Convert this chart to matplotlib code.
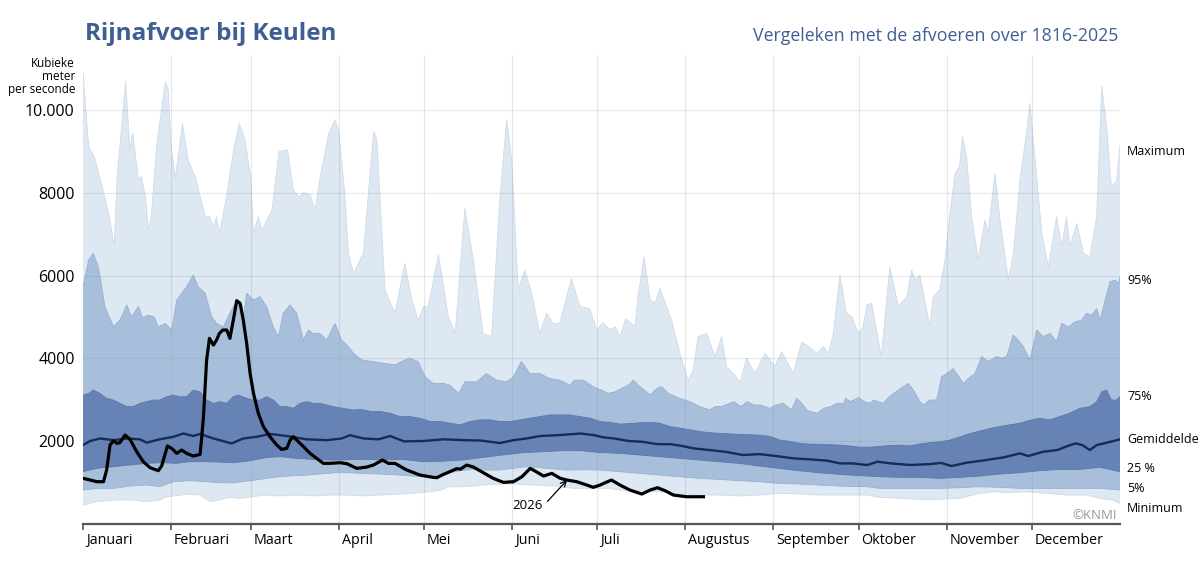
"""Rijnafvoer bij Keulen: 2026 vs. historical distribution 1816-2025."""
import matplotlib
matplotlib.use("Agg")
import matplotlib.pyplot as plt

# palette
LIGHT, MID, DARK = "#dee8f2", "#a8bfdc", "#6783b5"
LIGHT_EDGE, MID_EDGE, DARK_EDGE = "#cfdbe8", "#97afd0", "#5c78aa"
MEAN_C, Y26_C = "#172c55", "#000000"
TITLE_C, GRID_C = "#3f5f94", "#7d8894"

plt.rcParams.update({
    "font.family": ["Open Sans", "DejaVu Sans"],
    "figure.facecolor": "white", "axes.facecolor": "white",
})

MONTHS = ["Januari", "Februari", "Maart", "April", "Mei", "Juni", "Juli",
          "Augustus", "September", "Oktober", "November", "December"]
MONTH_START = [0, 31, 59, 90, 120, 151, 181, 212, 243, 273, 304, 334]

# day of year (0 = 1 jan) and discharge in m3/s
MAX_DAY = [0, 2, 4, 7, 9, 11, 12, 15, 16.5, 17.5, 19.5, 20.5, 22, 23, 24, 26, 29,
           30, 31, 32.5, 35, 37, 39.5, 43, 44.5, 46, 47, 48, 50.5, 53, 55, 57,
           59, 60, 61.7, 63, 66.5, 69, 72, 74, 76, 77.5, 80, 81.7, 83.5, 86.5,
           88.7, 90, 92, 93.4, 95.2, 98.7, 102.3, 103.4, 106.3, 109.8, 113.3,
           115.7, 118, 119.8, 121.5, 125.1, 128.6, 131, 134.4, 137.4, 140.8,
           143.8, 146.7, 149.1, 150.9, 153.2, 155.5, 157.9, 160.8, 163.2, 165.5,
           167.8, 171.9, 174.9, 178.4, 180.8, 183, 185.5, 187.3, 189, 191, 194.3,
           195.5, 197.5, 199.6, 201.4, 203.1, 205.4, 207.2, 210.1, 213, 214.8,
           216.5, 219.5, 222.4, 224.8, 226.5, 228.9, 231.3, 233.6, 236.5, 240.1,
           243.6, 245.9, 250, 253, 255.4, 258.3, 260.6, 262.4, 264.1, 266.4,
           268.7, 270.5, 273, 274.5, 276, 277.6, 281, 284, 287, 290, 291.7, 292.9,
           294.6, 298.1, 299.3, 301.6, 303.4, 305.2, 307, 308.5, 309.6, 311,
           312.8, 315.1, 317.5, 318.6, 321, 322.8, 325.7, 327.5, 329.8, 332.1,
           333.3, 334.5, 337.5, 339.8, 342.7, 344.5, 346.2, 347.4, 349.8, 352.1,
           354.4, 356.8, 358.6, 360.3, 362, 363.8, 365]
MAX_VAL = [10900, 9100, 8870, 8070, 7500, 6740, 8390, 10690, 9035, 9440, 8310,
           8400, 7900, 7100, 7420, 9200, 10690, 10490, 9115, 8350, 9680, 8790,
           8390, 7420, 7420, 7180, 7420, 7020, 7900, 9035, 9680, 9280, 8390,
           7020, 7420, 7100, 7580, 9000, 9035, 8070, 7900, 8000, 7950, 7580,
           8390, 9440, 9760, 9500, 8070, 6540, 6050, 6540, 9480, 9300, 5650,
           5090, 6290, 5410, 4920, 5250, 5250, 6500, 5000, 4600, 7620, 6375,
           4600, 4520, 7830, 9760, 8790, 5650, 6130, 5570, 4600, 5090, 4840,
           4840, 5930, 5250, 5200, 4680, 4860, 4680, 4760, 4520, 4960, 4760,
           5570, 6450, 5410, 5330, 5690, 5250, 4920, 4120, 3470, 3720, 4520,
           4600, 4040, 4520, 3800, 3630, 3430, 4000, 3630, 4120, 3800, 4160,
           3630, 4390, 4280, 4120, 4280, 4120, 4600, 6010, 5090, 5010, 4600,
           4760, 5290, 5330, 4040, 6210, 5250, 5490, 6130, 5890, 6010, 4760,
           5490, 5650, 6375, 7540, 8470, 8630, 9360, 8870, 7420, 6375, 7340,
           7020, 8470, 7340, 5890, 6540, 8310, 9440, 10160, 9280, 7020, 6210,
           7420, 6700, 7420, 6700, 7260, 6540, 6450, 7420, 10570, 9600, 8150,
           8270, 9160]

P95_DAY = [0, 2, 3.6, 5.4, 7.7, 10.7, 13, 15.4, 17, 19.5, 21, 23, 25, 26.5, 29,
           31.2, 33, 36.5, 38.8, 40.5, 43, 45.3, 47, 49.4, 51.7, 54.1, 56.5,
           57.6, 60, 62.3, 64.6, 67, 68.8, 70.5, 72.9, 75.2, 77.6, 79.3, 81,
           83.4, 85.8, 88.7, 91, 93.4, 95.2, 98.1, 102.2, 105.7, 109.8, 113.3,
           115, 118, 120.4, 123.3, 126.8, 129.1, 132.2, 134.5, 138.6, 142, 145.5,
           149.1, 151.5, 154.3, 157.3, 160.8, 164.3, 167.8, 171.4, 173, 176.1,
           179.6, 182.5, 185, 187.3, 189.6, 192, 193.7, 195.5, 199.6, 202, 203.7,
           206, 210.1, 213.6, 217.1, 220.6, 222.4, 224.6, 229.1, 231.5, 233.8,
           236.1, 238.5, 241.8, 244, 246.5, 249.4, 251.2, 253, 254.8, 256.1,
           258.5, 260.8, 263.1, 265.5, 267.8, 268.4, 270.2, 273, 275, 277,
           278.2, 281.6, 284.5, 287, 290.5, 292.3, 294.6, 295.8, 298.1, 300.5,
           302.2, 304, 306.3, 308.7, 309.9, 311.6, 314, 316.3, 318.7, 321.6,
           323.4, 325.1, 327.4, 329.2, 331, 333.3, 335.7, 338, 340.4, 342.7,
           344.5, 346.9, 349.2, 351.5, 353.3, 355, 356.8, 358, 359.8, 361.5,
           363.3, 364.5, 365]
P95_VAL = [5730, 6375, 6540, 6210, 5250, 4760, 4920, 5290, 5000, 5250, 4980,
           5040, 5000, 4760, 4840, 4680, 5410, 5730, 6010, 5730, 5570, 5000,
           4840, 4760, 5090, 5410, 5000, 5570, 5410, 5490, 5250, 4760, 4520,
           5090, 5290, 5090, 4440, 4680, 4600, 4600, 4440, 4840, 4440, 4280,
           4120, 3960, 3920, 3880, 3840, 3960, 4000, 3920, 3550, 3390, 3390,
           3350, 3150, 3430, 3430, 3630, 3470, 3430, 3550, 3920, 3630, 3630,
           3510, 3470, 3350, 3470, 3470, 3310, 3230, 3150, 3190, 3270, 3350,
           3470, 3350, 3110, 3270, 3310, 3150, 3030, 2950, 2830, 2750, 2830,
           2830, 2950, 2830, 2950, 2870, 2870, 2790, 2870, 2910, 2750, 3030,
           2910, 2750, 2710, 2670, 2790, 2830, 2910, 2910, 3030, 2950, 3050,
           2950, 2910, 2990, 2910, 3110, 3230, 3390, 3230, 2950, 2870, 2990,
           2990, 3550, 3630, 3750, 3510, 3390, 3510, 3630, 4040, 3920, 4040,
           4000, 4040, 4560, 4440, 4280, 3960, 4680, 4520, 4600, 4400, 4840,
           4760, 4880, 4920, 5090, 5040, 5200, 4920, 5410, 5850, 5890, 5800,
           5970]

P75_DAY = [0, 2, 3.6, 6, 8.3, 10.7, 13, 15.4, 17.7, 20, 22.4, 24.8, 27, 29.5,
           31.8, 34, 36.5, 38.8, 41.2, 43.5, 45.9, 48.2, 50.6, 52.9, 54.7, 57.6,
           60, 62.3, 64.6, 67, 69.3, 71.7, 74, 76.4, 78.7, 81, 83.4, 85.8, 88.1,
           91.5, 95, 98, 101.5, 105, 108, 111.6, 115, 118.6, 122.2, 125.7, 129.2,
           132.7, 136.2, 139.7, 143.2, 146.7, 150.2, 153.8, 157.3, 160.8, 164.3,
           167.8, 171.4, 174.9, 178.5, 182, 185.5, 189, 192.5, 196, 199.6, 203,
           206.6, 210.1, 213.6, 217.1, 220.6, 224.1, 227.7, 231.2, 234.7, 238.2,
           241.8, 245.3, 248.8, 252.4, 255.9, 259.4, 262.9, 266.4, 270, 273.5,
           277, 280.5, 284, 287.5, 291.1, 294.6, 298.1, 301.6, 305.1, 308.7,
           312.2, 315.7, 319.2, 322.8, 326.2, 329.8, 333.3, 336.8, 340.3, 343.8,
           347.3, 350.9, 354.4, 356.8, 358.6, 360.3, 362, 363.8, 365]
P75_VAL = [3110, 3150, 3230, 3150, 3030, 2990, 2910, 2830, 2830, 2910, 2950,
           2990, 2990, 3070, 3110, 3070, 3070, 3230, 3190, 2990, 2910, 2950,
           2910, 3070, 3110, 3030, 2990, 2990, 3070, 2990, 2830, 2830, 2790,
           2910, 2950, 2910, 2910, 2870, 2830, 2790, 2750, 2760, 2710, 2710,
           2670, 2590, 2590, 2550, 2470, 2470, 2430, 2390, 2470, 2510, 2510,
           2470, 2470, 2510, 2550, 2590, 2630, 2630, 2630, 2590, 2550, 2470,
           2450, 2410, 2420, 2440, 2450, 2430, 2350, 2310, 2270, 2230, 2200,
           2185, 2170, 2160, 2150, 2140, 2110, 2020, 1990, 1940, 1925, 1920,
           1910, 1900, 1880, 1850, 1850, 1870, 1890, 1900, 1880, 1930, 1960,
           1980, 2020, 2100, 2180, 2240, 2300, 2350, 2390, 2430, 2500, 2550,
           2510, 2590, 2670, 2790, 2830, 2950, 3190, 3230, 2990, 2990, 3070]

MEAN_DAY = [0, 2.5, 6, 10.7, 15.4, 20, 22.4, 27, 31.8, 35.3, 38.8, 41.2, 45.9,
            52.3, 56.4, 61.1, 65.8, 71.7, 78.7, 85.8, 91, 94, 98.7, 104, 108.1,
            113, 120, 127, 134, 140, 146.7, 151.5, 156, 161, 167, 175, 180, 183,
            187, 192, 197, 202, 207, 211, 215, 220.6, 226, 232.4, 238, 244, 250,
            256, 262, 266.4, 271, 276, 279.7, 284, 291, 298, 302, 305.7, 311,
            318, 324, 329.8, 332.7, 338, 343, 346.5, 349.4, 351.8, 354.4, 356.8,
            360.3, 365]
MEAN_VAL = [1900, 2000, 2060, 2020, 2060, 2040, 1960, 2040, 2100, 2180, 2120,
            2170, 2060, 1940, 2060, 2100, 2170, 2120, 2040, 2020, 2060, 2140,
            2060, 2040, 2120, 1990, 2000, 2040, 2020, 2010, 1950, 2020, 2060,
            2120, 2140, 2180, 2140, 2090, 2060, 2000, 1980, 1925, 1920, 1877,
            1820, 1780, 1740, 1660, 1683, 1636, 1580, 1555, 1523, 1458, 1458,
            1418, 1500, 1460, 1420, 1440, 1470, 1394, 1475, 1539, 1603, 1700,
            1636, 1740, 1781, 1877, 1942, 1900, 1781, 1901, 1958, 2039]

P25_DAY = [0, 5, 11, 16.5, 22.4, 28, 33, 37.7, 43.5, 48, 53, 58.8, 64.6, 69.3,
           75, 81, 87, 91, 98, 105.5, 112.5, 119.5, 126.5, 133.5, 140.5, 147.5,
           154.5, 161.5, 168.5, 175.5, 182, 189, 196, 203, 210, 217, 224, 231,
           238, 245, 252, 259, 266, 276, 280.5, 287.5, 294.6, 301.6, 308.7,
           315.7, 322.8, 329.8, 336.8, 343.8, 350.9, 358, 365]
P25_VAL = [1260, 1340, 1380, 1420, 1460, 1475, 1460, 1500, 1500, 1490, 1475,
           1520, 1600, 1620, 1580, 1555, 1540, 1540, 1560, 1540, 1555, 1500,
           1510, 1540, 1600, 1660, 1715, 1740, 1765, 1765, 1720, 1700, 1660,
           1620, 1580, 1539, 1499, 1458, 1394, 1337, 1281, 1233, 1193, 1152,
           1136, 1120, 1120, 1096, 1120, 1152, 1200, 1233, 1281, 1313, 1313,
           1362, 1257]

P5_DAY = [0, 5, 11, 16.5, 22.4, 27, 31.8, 37.7, 43.5, 48.2, 52.9, 57.6, 62.3,
          67, 71.7, 78.7, 85.8, 90.5, 97.5, 104.5, 111.6, 118.6, 123.3, 128,
          132.7, 137.4, 142, 146.7, 151.4, 156, 163, 170, 177, 182, 189, 196,
          203, 210, 217, 224, 231, 238, 245, 252, 259, 266, 276, 280.5, 301.6,
          308.7, 315.7, 322.8, 329.8, 343.8, 358, 365]
P5_VAL = [813, 855, 855, 910, 935, 895, 1015, 1040, 1015, 990, 990, 1030, 1070,
          1120, 1150, 1175, 1215, 1245, 1217, 1200, 1175, 1135, 1120, 1217,
          1280, 1313, 1300, 1297, 1338, 1378, 1340, 1297, 1305, 1297, 1257,
          1217, 1176, 1136, 1096, 1072, 1040, 1015, 975, 959, 935, 910, 894,
          854, 854, 870, 894, 880, 854, 854, 854, 814]

MIN_DAY = [0, 5, 11, 17.5, 22.4, 27, 29.5, 31.8, 34, 38, 41.2, 44.7, 48, 51.7,
           55, 58.5, 63.5, 69.3, 75, 81, 87, 93.8, 97.5, 104.5, 111.6, 118.6,
           122.2, 125.7, 129.2, 135, 141, 146.7, 152.6, 158.5, 165.5, 172.5,
           179.6, 185, 189, 196, 203, 210, 217, 224, 231, 238, 245, 252, 259,
           266, 276, 280.5, 287.5, 294.6, 301.6, 308.7, 314.5, 320.4, 326.2, 332,
           339, 346, 353, 357.7, 362.4, 365]
MIN_VAL = [451, 533, 573, 573, 533, 573, 653, 670, 693, 710, 693, 533, 573, 637,
           610, 637, 693, 670, 693, 670, 693, 693, 670, 693, 717, 750, 773, 813,
           895, 895, 935, 959, 959, 935, 910, 854, 854, 854, 813, 797, 773, 733,
           693, 693, 669, 693, 733, 720, 693, 693, 693, 637, 612, 588, 588, 612,
           717, 773, 750, 773, 733, 693, 693, 612, 572, 491]

Y2026_DAY = [0, 2.5, 4.8, 7.2, 8.3, 9.5, 10.7, 11.9, 13, 14.8, 16.5, 18.9, 21.2,
             23.6, 26.5, 27.7, 29.7, 31.2, 33, 34.7, 36.5, 38.8, 41.2, 41.8,
             42.4, 43.5, 44.5, 45.9, 47, 48, 49.2, 50.6, 51.7, 52.9, 54.1, 55.3,
             56.4, 57.6, 58.8, 60, 61.7, 63.5, 65.8, 68.2, 69.9, 71.7, 72.9, 74,
             75.8, 77.6, 79.9, 82.2, 84.6, 87, 90.5, 92.9, 96.4, 99.9, 102.2,
             105.4, 107.5, 109.8, 114, 118.6, 123.3, 124.5, 126.8, 129.1, 131.5,
             132.9, 135, 137.4, 140.9, 144.4, 148, 151.5, 154.5, 157.4, 159.7,
             162.1, 165, 168, 170.3, 173.8, 177.3, 179.6, 182, 183.8, 186, 189,
             192.5, 196.7, 199.6, 202.2, 204.9, 207.8, 212.5, 218.4]
Y2026_VAL = [1097, 1056, 1016, 1016, 1298, 1903, 2007, 1943, 1960, 2144, 2040,
             1741, 1499, 1354, 1282, 1400, 1878, 1822, 1701, 1781, 1700, 1636,
             1676, 2104, 2600, 3957, 4481, 4320, 4441, 4602, 4683, 4683, 4481,
             4925, 5392, 5328, 4925, 4360, 3635, 3151, 2668, 2345, 2104, 1902,
             1797, 1822, 2023, 2104, 1983, 1862, 1701, 1580, 1459, 1459, 1475,
             1450, 1337, 1370, 1418, 1539, 1458, 1458, 1297, 1176, 1120, 1112,
             1190, 1257, 1330, 1320, 1418, 1370, 1233, 1096, 999, 1015, 1136,
             1337, 1250, 1153, 1217, 1096, 1056, 1015, 935, 879, 935, 991, 1056,
             935, 813, 717, 813, 870, 797, 693, 652, 652]

YTICKS = [2000, 4000, 6000, 8000, 10000]
YTICK_LABELS = ["2000", "4000", "6000", "8000", "10.000"]
RIGHT_LABELS = [("Maximum", 9000), ("95%", 5890), ("75%", 3070),
                ("Gemiddelde", 2040), ("25 %", 1340), ("5%", 850),
                ("Minimum", 360)]

fig = plt.figure(figsize=(12, 5.68), dpi=100)
ax = fig.add_axes([0.0692, 0.078, 0.8641, 0.825])

# stacked fills from the baseline: each layer paints over the one before
layers = [(MAX_DAY, MAX_VAL, LIGHT, LIGHT_EDGE),
          (P95_DAY, P95_VAL, MID, MID_EDGE),
          (P75_DAY, P75_VAL, DARK, DARK_EDGE),
          (P25_DAY, P25_VAL, MID, DARK_EDGE),
          (P5_DAY, P5_VAL, LIGHT, MID_EDGE),
          (MIN_DAY, MIN_VAL, "white", LIGHT_EDGE)]
for days, vals, fc, ec in layers:
    ax.fill_between(days, 0, vals, facecolor=fc, edgecolor="none", zorder=1)
    ax.plot(days, vals, color=ec, lw=0.6, zorder=1.5)

# recessive grid on top of the bands
for v in YTICKS:
    ax.axhline(v, color=GRID_C, lw=0.8, alpha=0.2, zorder=2)
for d in MONTH_START[1:]:
    ax.axvline(d, color=GRID_C, lw=0.8, alpha=0.2, zorder=2)

ax.plot(MEAN_DAY, MEAN_VAL, color=MEAN_C, lw=1.7, zorder=3)
ax.plot(Y2026_DAY, Y2026_VAL, color=Y26_C, lw=2.3, zorder=4,
        solid_joinstyle="round")
ax.text(156.5, 440, "2026", ha="center", va="center", fontsize=9.5, zorder=5)
ax.annotate("", xy=(170.4, 1056), xytext=(163.5, 540), zorder=5,
            arrowprops=dict(arrowstyle="->", color="black", lw=0.9,
                            shrinkA=0, shrinkB=0))

ax.set_xlim(0, 365)
ax.set_ylim(0, 11330)
for s in ("top", "right", "left"):
    ax.spines[s].set_visible(False)
ax.spines["bottom"].set_color("#555555")
ax.spines["bottom"].set_linewidth(1.6)
ax.spines["bottom"].set_zorder(6)

ax.set_xticks(MONTH_START)
ax.set_xticklabels([])
ax.tick_params(axis="x", length=4, width=1.2, color="#555555")
for d, name in zip(MONTH_START, MONTHS):
    ax.text(d + 1.0, -230, name, ha="left", va="top", fontsize=10.3,
            color="black")

ax.set_yticks(YTICKS)
ax.set_yticklabels(YTICK_LABELS, fontsize=11.5)
ax.tick_params(axis="y", length=0, pad=6)

for text, v in RIGHT_LABELS:
    ax.text(367.5, v, text, ha="left", va="center", fontsize=9, clip_on=False)

ax.text(364, 200, "©KNMI", ha="right", va="center", fontsize=9.5,
        color="#9a9a9a", zorder=6)

fig.text(0.0625, 0.90, "Kubieke\nmeter\nper seconde", ha="right", va="top",
         fontsize=8.5, linespacing=1.0)
fig.text(0.071, 0.94, "Rijnafvoer bij Keulen", ha="left", va="center",
         fontsize=17.5, fontweight="bold", color=TITLE_C)
fig.text(0.932, 0.936, "Vergeleken met de afvoeren over 1816-2025", ha="right",
         va="center", fontsize=12.8, color=TITLE_C)

fig.savefig("out.png", dpi=100, facecolor="white")
